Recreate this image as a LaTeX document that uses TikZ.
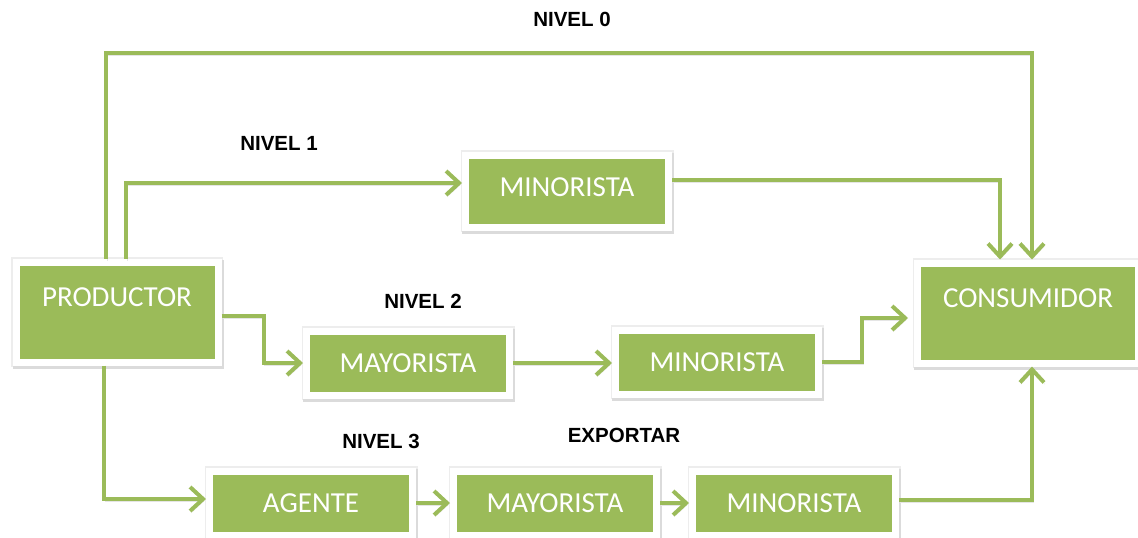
\documentclass[tikz,border=0pt]{standalone}
\usepackage{fontspec}
\setmainfont{Carlito}
\newfontfamily\labelfont{Liberation Sans}
\usepackage{tikz}
\usetikzlibrary{arrows.meta}
\definecolor{boxgreen}{RGB}{155,187,89}

\begin{document}
\begin{tikzpicture}[x=1pt,y=-1pt,
    box/.style={fill=boxgreen, draw=white, line width=7pt, text=white, inner sep=0pt,
      minimum width=203pt, minimum height=64pt, font=\fontsize{29}{32}\selectfont,
      preaction={draw=black!7, line width=10pt},
      preaction={draw=black!14, line width=9pt, transform canvas={xshift=1pt,yshift=-2.5pt}}},
    bigbox/.style={box, minimum height=100pt, text height=19pt, text depth=30pt},
    flow/.style={draw=boxgreen, line width=4pt, -{Straight Barb[length=13pt,width=24pt]},
      preaction={draw=black!10, transform canvas={xshift=1pt,yshift=-2pt}}},
    nivel/.style={font=\labelfont\bfseries\fontsize{20.5}{22}\selectfont}]
      \useasboundingbox (0,0) rectangle (1138,538);
      \node[bigbox, minimum width=202pt] (prod) at (117,312) {PRODUCTOR};
      \node[bigbox, minimum width=221pt] (cons) at (1028,313) {CONSUMIDOR};
      \node[box, minimum height=72pt, text height=19pt, text depth=8pt] (min1) at (567,191) {MINORISTA};
      \node[box] (may2) at (408,363) {MAYORISTA};
      \node[box] (min2) at (717,362) {MINORISTA};
      \foreach \name/\x/\txt in {agente/311/AGENTE, may3/555/MAYORISTA, min3/794/MINORISTA}{
        \node[box] (\name) at (\x,503) {\txt};
      }
      \node[nivel] (n0) at (572,19) {NIVEL 0};
      \node[nivel] (n1) at (279,143) {NIVEL 1};
      \node[nivel] (n2) at (423,301) {NIVEL 2};
      \node[nivel] (n3) at (381,441) {NIVEL 3};
      \node[nivel] (exp) at (624,435) {EXPORTAR};
      \coordinate (top0) at (1032,53);
      \draw[flow] ([xshift=-11pt]prod.north) |- (top0) -- ([xshift=4pt]cons.north);
      \draw[flow] ([xshift=9pt]prod.north) |- ([yshift=8pt]min1.west);
      \draw[flow] ([yshift=11pt]min1.east) -| ([xshift=-28pt]cons.north);
      \draw[flow] ([yshift=-4pt]prod.east) -- ++(42,0) |- (may2.west);
      \draw[flow] (may2.east) -- (may2.east -| min2.west);
      \draw[flow, shorten >=6pt] (min2.east) -- ++(40,0) |- ([yshift=-5pt]cons.west);
      \draw[flow] ([xshift=-13pt]prod.south) |- ([yshift=4pt]agente.west);
      \foreach \a/\b in {agente/may3, may3/min3}{
        \draw[flow] (\a) -- (\b);
      }
      \draw[flow] ([yshift=3pt]min3.east) -| ([xshift=4pt]cons.south);
    \end{tikzpicture}
\end{document}
